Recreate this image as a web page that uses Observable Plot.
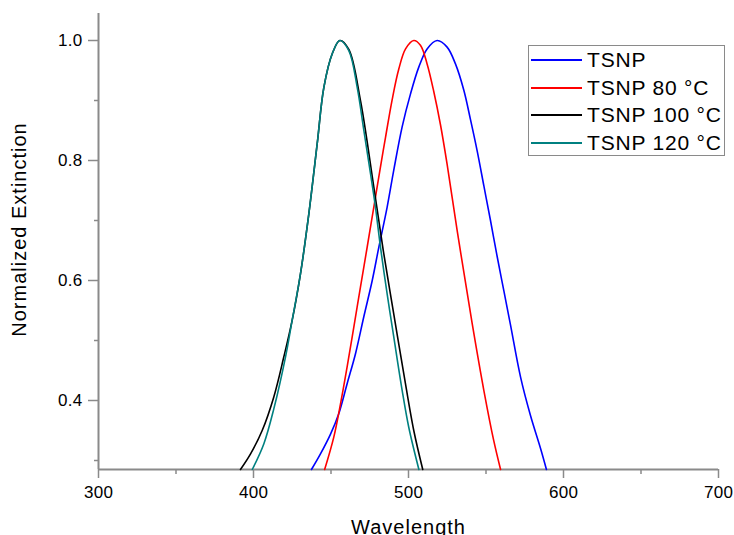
<!DOCTYPE html>
<html>
<head>
<meta charset="utf-8">
<script src="https://cdn.jsdelivr.net/npm/d3@7"></script>
<script src="https://cdn.jsdelivr.net/npm/@observablehq/plot@0.6"></script>
<style>
  html, body { margin: 0; padding: 0; background: #fff; }
  #wrap { position: relative; width: 734px; height: 535px; overflow: hidden; font-family: "Liberation Sans", Arial, sans-serif; }
  .legend { position: absolute; left: 528px; top: 45px; width: 197px; height: 111px; box-sizing: border-box; border: 1.5px solid #8a8a8a; background: #fff; }
  .row { position: absolute; left: 0; height: 28px; width: 100%; }
  .row .ln { position: absolute; left: 2px; width: 51px; height: 2px; top: 13px; }
  .row .tx { position: absolute; left: 58px; top: 0; line-height: 28px; font-size: 21px; letter-spacing: 0.8px; color: #000; white-space: nowrap; }
</style>
</head>
<body>
<div id="wrap"></div>
<script>
// ---- data ----
const seriesNames = ["TSNP", "TSNP 80 °C", "TSNP 100 °C", "TSNP 120 °C"];
const seriesColors = ["#0000ff", "#ff0000", "#000000", "#008080"];

const tsnpWl  = [437.4, 443.2, 449.7, 455.0, 460.4, 465.8, 471.2, 476.6, 480.9, 486.2, 490.5, 495.9, 501.3, 506.7, 512.0, 518.5, 524.9, 530.3, 535.7, 540.0, 544.3, 548.6, 552.9, 557.2, 561.5, 565.8, 572.3, 578.7, 585.2, 589.0];
const tsnpVal = [0.285, 0.311, 0.344, 0.378, 0.428, 0.478, 0.540, 0.600, 0.656, 0.722, 0.784, 0.856, 0.911, 0.956, 0.986, 1.000, 0.989, 0.961, 0.917, 0.868, 0.816, 0.758, 0.700, 0.640, 0.583, 0.526, 0.439, 0.375, 0.320, 0.285];

const t80Wl  = [445.9, 451.8, 456.1, 460.4, 464.7, 469.0, 473.3, 477.6, 481.9, 485.2, 489.5, 493.7, 498.1, 503.4, 507.7, 512.0, 516.3, 520.6, 524.9, 531.4, 535.7, 541.1, 548.6, 555.0, 559.4];
const t80Val = [0.285, 0.339, 0.394, 0.456, 0.522, 0.589, 0.655, 0.722, 0.789, 0.839, 0.902, 0.952, 0.986, 1.000, 0.992, 0.961, 0.915, 0.860, 0.794, 0.683, 0.614, 0.528, 0.417, 0.333, 0.285];

const t100Wl  = [391.6, 398.1, 405.6, 413.1, 419.5, 424.9, 430.3, 435.7, 441.1, 445.4, 450.8, 455.7, 461.5, 469.0, 477.6, 484.1, 490.5, 497.0, 503.4, 509.2];
const t100Val = [0.285, 0.311, 0.350, 0.406, 0.472, 0.533, 0.611, 0.711, 0.828, 0.922, 0.978, 1.000, 0.985, 0.900, 0.756, 0.644, 0.544, 0.444, 0.350, 0.285];

const t120Wl  = [399.2, 406.7, 413.1, 420.6, 424.9, 430.3, 435.7, 441.1, 445.4, 450.8, 455.7, 461.5, 466.9, 471.2, 475.5, 478.7, 481.9, 486.2, 490.5, 495.9, 500.2, 506.7];
const t120Val = [0.285, 0.328, 0.386, 0.472, 0.533, 0.611, 0.711, 0.828, 0.922, 0.978, 1.000, 0.983, 0.922, 0.850, 0.778, 0.722, 0.656, 0.578, 0.506, 0.417, 0.355, 0.285];

const xMajor = [300, 400, 500, 600, 700];
const xMinor = [350, 450, 550, 650];
const yMajor = [0.4, 0.6, 0.8, 1.0];
const yMinor = [0.3, 0.5, 0.7, 0.9];
const xTitle = "Wavelength";
const yTitle = "Normalized Extinction";

// ---- build table ----
const wlArrays = [tsnpWl, t80Wl, t100Wl, t120Wl];
const valArrays = [tsnpVal, t80Val, t100Val, t120Val];
const rows = [];
seriesNames.forEach((name, s) => {
  wlArrays[s].forEach((w, i) => rows.push({series: name, wl: w, val: valArrays[s][i]}));
});

const axisColor = "#8a8a8a";
const xDomain = [300, 700];
const yDomain = [0.285, 1.045];

const chart = Plot.plot({
  width: 734,
  height: 535,
  marginLeft: 98,
  marginRight: 16,
  marginTop: 13,
  marginBottom: 66,
  x: {domain: xDomain},
  y: {domain: yDomain},
  color: {domain: seriesNames, range: seriesColors},
  style: {fontFamily: "'Liberation Sans', Arial, sans-serif", background: "#fff", color: "#000"},
  marks: [
    Plot.axisX(xMajor, {tickSize: 9, tickPadding: 7, fontSize: 17, label: null, stroke: axisColor, strokeWidth: 1.5, fill: "#000", tickFormat: d3.format("d")}),
    Plot.axisX(xMinor, {tickSize: 5, label: null, stroke: axisColor, strokeWidth: 1.5, tickFormat: () => ""}),
    Plot.axisY(yMajor, {tickSize: 10, tickPadding: 6, fontSize: 17, label: null, stroke: axisColor, strokeWidth: 1.5, fill: "#000", tickFormat: d3.format(".1f")}),
    Plot.axisY(yMinor, {tickSize: 4, label: null, stroke: axisColor, strokeWidth: 1.5, tickFormat: () => ""}),
    Plot.ruleX([xDomain[0]], {stroke: axisColor, strokeWidth: 2}),
    Plot.ruleY([yDomain[0]], {stroke: axisColor, strokeWidth: 2}),
    Plot.line(rows, {x: "wl", y: "val", z: "series", stroke: "series", strokeWidth: 1.6, curve: "catmull-rom"}),
    Plot.text([xTitle], {frameAnchor: "bottom", dy: 57.6, fontSize: 20, textAnchor: "middle", lineAnchor: "middle", fill: "#000"}),
    Plot.text([yTitle], {frameAnchor: "left", dx: -79.4, dy: -12, rotate: -90, fontSize: 20, textAnchor: "middle", lineAnchor: "middle", fill: "#000"})
  ]
});

// letter spacing to imitate the wide original font
d3.select(chart).selectAll("text").each(function () {
  const t = this.textContent;
  if (t === xTitle || t === yTitle) this.style.letterSpacing = "1px";
  else this.style.letterSpacing = "0.3px";
});

const wrap = document.getElementById("wrap");
wrap.appendChild(chart);

// legend overlay
const legend = document.createElement("div");
legend.className = "legend";
const rowTops = [0, 27.5, 54.5, 82.5];
seriesNames.forEach((name, i) => {
  const r = document.createElement("div");
  r.className = "row";
  r.style.top = rowTops[i] + "px";
  const ln = document.createElement("div");
  ln.className = "ln";
  ln.style.background = seriesColors[i];
  const tx = document.createElement("div");
  tx.className = "tx";
  tx.textContent = name;
  r.appendChild(ln);
  r.appendChild(tx);
  legend.appendChild(r);
});
wrap.appendChild(legend);
</script>
</body>
</html>
